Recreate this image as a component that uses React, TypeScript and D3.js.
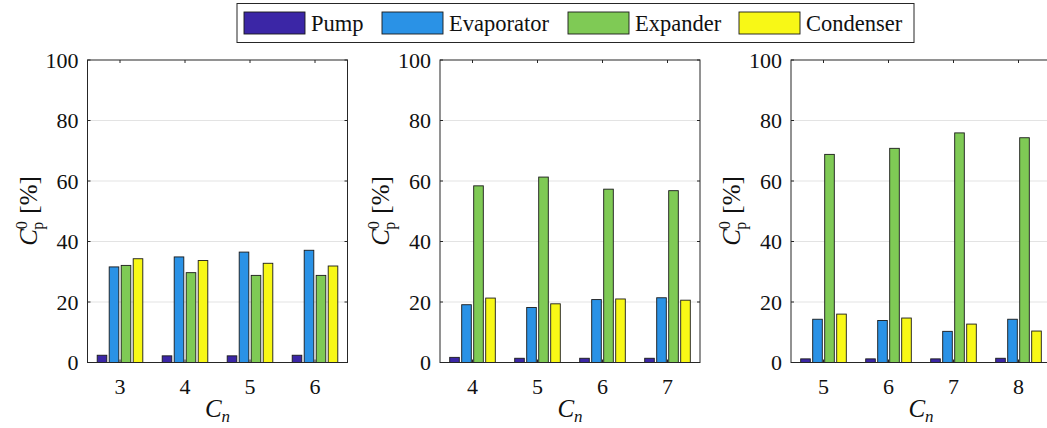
import React from "react";
import * as d3 from "d3";

// series names and colours
const seriesNames = ["Pump", "Evaporator", "Expander", "Condenser"];
const seriesColors = ["#3b26a6", "#2a92e6", "#7fca55", "#f8f816"];

// panel 1
const cats1 = ["3", "4", "5", "6"];
const pump1 = [2.4, 2.2, 2.2, 2.4];
const evap1 = [31.6, 34.9, 36.5, 37.1];
const expa1 = [32.1, 29.7, 28.8, 28.8];
const cond1 = [34.3, 33.7, 32.8, 31.9];

// panel 2
const cats2 = ["4", "5", "6", "7"];
const pump2 = [1.7, 1.4, 1.4, 1.4];
const evap2 = [19.1, 18.2, 20.8, 21.4];
const expa2 = [58.4, 61.3, 57.3, 56.8];
const cond2 = [21.3, 19.4, 21.0, 20.6];

// panel 3
const cats3 = ["5", "6", "7", "8"];
const pump3 = [1.2, 1.2, 1.2, 1.4];
const evap3 = [14.3, 13.9, 10.3, 14.3];
const expa3 = [68.8, 70.8, 75.9, 74.3];
const cond3 = [16.0, 14.7, 12.7, 10.4];

const yTicks = [0, 20, 40, 60, 80, 100];

const panels = [
  { left: 87.5, cats: cats1, values: [pump1, evap1, expa1, cond1] },
  { left: 440, cats: cats2, values: [pump2, evap2, expa2, cond2] },
  { left: 791, cats: cats3, values: [pump3, evap3, expa3, cond3] },
];

const W = 1047;
const H = 428;
const plotW = 260;
const top = 60;
const bottom = 362.5;
const font = '"Liberation Serif", "DejaVu Serif", serif';
const axisColor = "#262626";

function Panel({ left, cats, values }: { left: number; cats: string[]; values: number[][] }) {
  const x = d3.scaleBand<string>().domain(cats).range([left, left + plotW]).padding(0);
  const inner = d3
    .scaleBand<string>()
    .domain(seriesNames)
    .range([-24, 24])
    .paddingInner(0.2)
    .paddingOuter(0.1);
  const y = d3.scaleLinear().domain([0, 100]).range([bottom, top]);
  const right = left + plotW;
  const cx = (c: string) => (x(c) as number) + x.bandwidth() / 2;

  return (
    <g>
      {/* grid */}
      {yTicks.slice(1, -1).map((t) => (
        <line key={"g" + t} x1={left} x2={right} y1={y(t)} y2={y(t)} stroke="#e3e3e3" strokeWidth={1} />
      ))}
      {/* bars */}
      {seriesNames.map((s, si) =>
        cats.map((c, ci) => (
          <rect
            key={s + c}
            x={cx(c) + (inner(s) as number)}
            y={y(values[si][ci])}
            width={inner.bandwidth()}
            height={y(0) - y(values[si][ci])}
            fill={seriesColors[si]}
            stroke="#1a1a1a"
            strokeWidth={0.9}
          />
        ))
      )}
      {/* box */}
      <rect x={left} y={top} width={plotW} height={bottom - top} fill="none" stroke={axisColor} strokeWidth={1} />
      {/* y ticks + labels */}
      {yTicks.map((t) => (
        <g key={"y" + t}>
          <line x1={left} x2={left + 3} y1={y(t)} y2={y(t)} stroke={axisColor} />
          <line x1={right} x2={right - 3} y1={y(t)} y2={y(t)} stroke={axisColor} />
          <text x={left - 9} y={y(t) + 7.5} textAnchor="end" style={{ fontFamily: font }} fontSize={22} fill="#111">
            {t}
          </text>
        </g>
      ))}
      {/* x ticks + labels */}
      {cats.map((c) => (
        <g key={"x" + c}>
          <line x1={cx(c)} x2={cx(c)} y1={bottom} y2={bottom - 3} stroke={axisColor} />
          <line x1={cx(c)} x2={cx(c)} y1={top} y2={top + 3} stroke={axisColor} />
          <text x={cx(c)} y={bottom + 31} textAnchor="middle" style={{ fontFamily: font }} fontSize={22} fill="#111">
            {c}
          </text>
        </g>
      ))}
      {/* x label */}
      <text x={left + plotW / 2} y={417} textAnchor="middle" style={{ fontFamily: font }} fontSize={25} fill="#111">
        <tspan fontStyle="italic">C</tspan>
        <tspan fontStyle="italic" fontSize={17} dy={5}>n</tspan>
      </text>
      {/* y label */}
      <text
        transform={`translate(${left - 51},211) rotate(-90)`}
        textAnchor="middle"
        style={{ fontFamily: font }}
        fontSize={25}
        fill="#111"
      >
        <tspan fontStyle="italic">C</tspan>
        <tspan fontSize={16} dy={-10}>0</tspan>
        <tspan fontSize={16} dx={-8.5} dy={16}>p</tspan>
        <tspan dx={8} dy={-6}>[%]</tspan>
      </text>
    </g>
  );
}

// legend layout
const legendSwatchX = [244, 382, 568, 739];

export default function App() {
  return (
    <svg width={W} height={H} style={{ display: "block", position: "absolute", left: 0, top: 0 }}>
      <rect width={W} height={H} fill="#fff" />
      {panels.map((p, i) => (
        <Panel key={i} {...p} />
      ))}
      <rect x={237} y={3.5} width={677} height={39} fill="#fff" stroke={axisColor} strokeWidth={1} />
      {seriesNames.map((s, i) => (
        <g key={s}>
          <rect x={legendSwatchX[i]} y={12} width={61} height={22} fill={seriesColors[i]} stroke="#1a1a1a" strokeWidth={0.9} />
          <text x={legendSwatchX[i] + 67} y={30.5} style={{ fontFamily: font }} fontSize={22.5} fill="#111">
            {s}
          </text>
        </g>
      ))}
    </svg>
  );
}
